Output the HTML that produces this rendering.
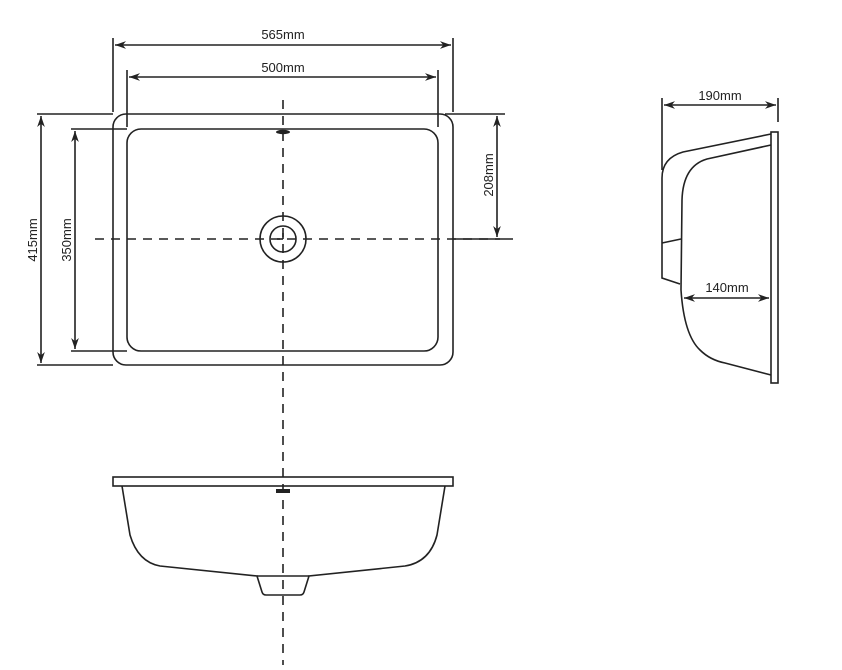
<!DOCTYPE html>
<html><head><meta charset="utf-8"><style>
html,body{margin:0;padding:0;background:#fff;}
svg{display:block;}
text{font-family:"Liberation Sans",sans-serif;font-size:13px;fill:#222;}
</style></head><body>
<svg width="842" height="670" viewBox="0 0 842 670" xmlns="http://www.w3.org/2000/svg">
<defs>
<marker id="a" viewBox="0 0 10 10" refX="10" refY="5" markerWidth="11" markerHeight="11" orient="auto-start-reverse" markerUnits="userSpaceOnUse"><path d="M0,1.5 L10,5 L0,8.5 L3,5 z" fill="#222"/></marker>
</defs>
<g stroke="#222" fill="none" stroke-width="1.6">
<rect x="113" y="114" width="340" height="251" rx="13"/>
<rect x="127" y="129" width="311" height="222" rx="14"/>
<circle cx="283" cy="239" r="23"/>
<circle cx="283" cy="239" r="13"/>
<line x1="277" y1="239" x2="283" y2="239"/>
<line x1="283" y1="233" x2="283" y2="239"/>
<line x1="283" y1="100" x2="283" y2="665" stroke-dasharray="9,7"/>
<line x1="95" y1="239" x2="500" y2="239" stroke-dasharray="9,7"/>
<line x1="453" y1="239" x2="513" y2="239"/>
<line x1="113" y1="38" x2="113" y2="112"/>
<line x1="453" y1="38" x2="453" y2="112"/>
<line x1="127" y1="70" x2="127" y2="127"/>
<line x1="438" y1="70" x2="438" y2="127"/>
<line x1="37" y1="114" x2="113" y2="114"/>
<line x1="37" y1="365" x2="113" y2="365"/>
<line x1="71" y1="129" x2="127" y2="129"/>
<line x1="71" y1="351" x2="127" y2="351"/>
<line x1="445" y1="114" x2="505" y2="114"/>
<line x1="115" y1="45" x2="451" y2="45" marker-start="url(#a)" marker-end="url(#a)"/>
<line x1="129" y1="77" x2="436" y2="77" marker-start="url(#a)" marker-end="url(#a)"/>
<line x1="41" y1="116" x2="41" y2="363" marker-start="url(#a)" marker-end="url(#a)"/>
<line x1="75" y1="131" x2="75" y2="349" marker-start="url(#a)" marker-end="url(#a)"/>
<line x1="497" y1="116" x2="497" y2="237" marker-start="url(#a)" marker-end="url(#a)"/>
<line x1="662" y1="98" x2="662" y2="170"/>
<line x1="778" y1="98" x2="778" y2="122"/>
<line x1="664" y1="105" x2="776" y2="105" marker-start="url(#a)" marker-end="url(#a)"/>
<rect x="771" y="132" width="7" height="251"/>
<path d="M771,134 L683,152 Q662,158 662,178 L662,278 L680,284"/>
<line x1="662" y1="243" x2="681" y2="239"/>
<path d="M771,145 L707,159 Q683,166 682,200 L681,290 Q684,335 700,350 Q710,360 725,363 L771,375"/>
<line x1="684" y1="298" x2="769" y2="298" marker-start="url(#a)" marker-end="url(#a)"/>
<rect x="113" y="477" width="340" height="9"/>
<path d="M122,486 L130,535 Q138,562 160,566 L257,576 L262,592 Q263,595 266,595 L300,595 Q303,595 304,592 L309,576 L405,566 Q430,562 437,535 L445,486"/>
<line x1="257" y1="576" x2="309" y2="576"/>
</g>
<ellipse cx="283" cy="132" rx="7" ry="2.2" fill="#222"/>
<rect x="276" y="489" width="14" height="4" fill="#222"/>
<text x="283" y="39" text-anchor="middle">565mm</text>
<text x="283" y="72" text-anchor="middle">500mm</text>
<text x="720" y="100" text-anchor="middle">190mm</text>
<text x="727" y="292" text-anchor="middle">140mm</text>
<text transform="translate(37,240) rotate(-90)" text-anchor="middle">415mm</text>
<text transform="translate(71,240) rotate(-90)" text-anchor="middle">350mm</text>
<text transform="translate(493,175) rotate(-90)" text-anchor="middle">208mm</text>
</svg>
</body></html>
